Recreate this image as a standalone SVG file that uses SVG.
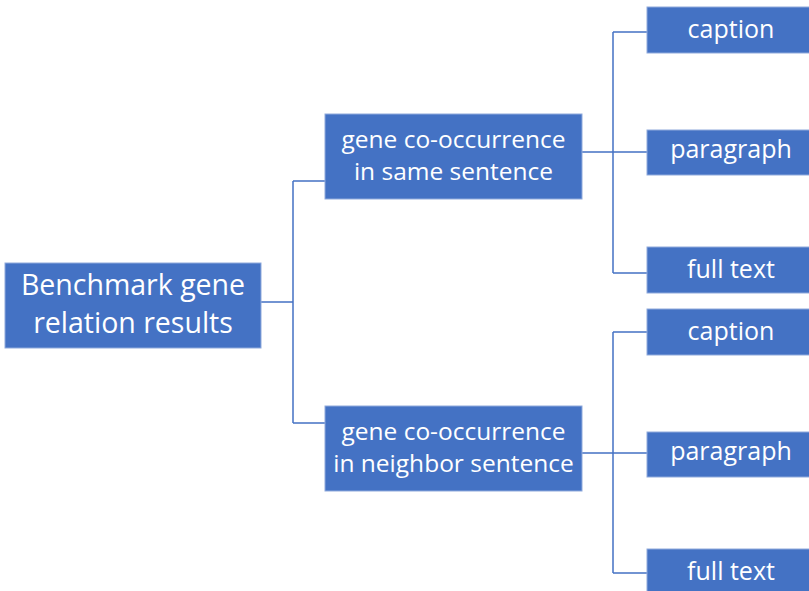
<svg xmlns="http://www.w3.org/2000/svg" width="809" height="591" viewBox="0 0 809 591">
  <style>
    .box { fill: #4472c4; stroke: #8faadc; stroke-width: 1; }
    .lbl { fill: #ffffff; font-family: "Open Sans", "Noto Sans", sans-serif; text-anchor: middle; }
    .root { font-size: 28.5px; }
    .mid { font-size: 24.5px; }
    .leaf { font-size: 25px; }
    .wire { fill: none; stroke: #4472c4; stroke-width: 1.5; }
  </style>
  <rect width="809" height="591" fill="#ffffff"/>

  <g id="connectors">
    <!-- root to sentence-level nodes -->
    <path class="wire" d="M261 302 H293 M293 181 V423 M293 181 H325 M293 423 H325"/>
    <!-- same sentence to leaves -->
    <path class="wire" d="M582 152 H647 M613 32 V273 M613 32 H647 M613 273 H647"/>
    <!-- neighbor sentence to leaves -->
    <path class="wire" d="M582 453 H647 M613 332 V573 M613 332 H647 M613 573 H647"/>
  </g>

  <g id="root">
    <rect class="box" x="5" y="263" width="256" height="85"/>
    <text class="lbl root" x="133" y="295">Benchmark gene</text>
    <text class="lbl root" x="133" y="333">relation results</text>
  </g>

  <g id="same-sentence">
    <rect class="box" x="325" y="114" width="257" height="85"/>
    <text class="lbl mid" x="453.5" y="148">gene co-occurrence</text>
    <text class="lbl mid" x="453.5" y="180">in same sentence</text>
  </g>

  <g id="neighbor-sentence">
    <rect class="box" x="325" y="406" width="257" height="85"/>
    <text class="lbl mid" x="453.5" y="440">gene co-occurrence</text>
    <text class="lbl mid" x="453.5" y="472">in neighbor sentence</text>
  </g>

  <g id="same-caption">
    <rect class="box" x="647" y="7" width="170" height="46"/>
    <text class="lbl leaf" x="731" y="38">caption</text>
  </g>
  <g id="same-paragraph">
    <rect class="box" x="647" y="130" width="170" height="45"/>
    <text class="lbl leaf" x="731" y="158">paragraph</text>
  </g>
  <g id="same-fulltext">
    <rect class="box" x="647" y="247" width="170" height="46"/>
    <text class="lbl leaf" x="731" y="278">full text</text>
  </g>

  <g id="neighbor-caption">
    <rect class="box" x="647" y="309" width="170" height="46"/>
    <text class="lbl leaf" x="731" y="340">caption</text>
  </g>
  <g id="neighbor-paragraph">
    <rect class="box" x="647" y="432" width="170" height="45"/>
    <text class="lbl leaf" x="731" y="460">paragraph</text>
  </g>
  <g id="neighbor-fulltext">
    <rect class="box" x="647" y="549" width="170" height="46"/>
    <text class="lbl leaf" x="731" y="580">full text</text>
  </g>
</svg>
